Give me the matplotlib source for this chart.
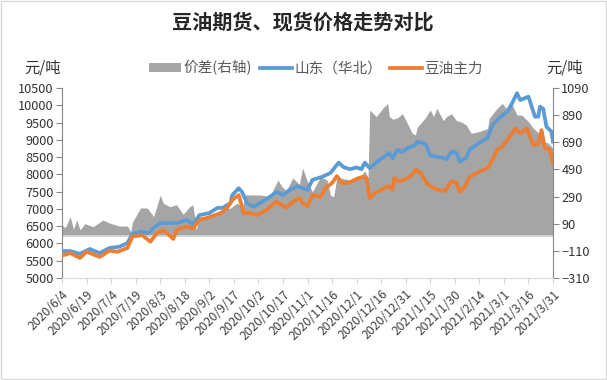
import matplotlib
matplotlib.use("Agg")
import matplotlib.pyplot as plt
from matplotlib.patches import Rectangle, Patch
from matplotlib.lines import Line2D
import pandas as pd

plt.rcParams['font.family'] = ['Noto Sans CJK SC', 'DejaVu Sans']

title = "豆油期货、现货价格走势对比"
unit = "元/吨"
name_diff = "价差(右轴)"
name_spot = "山东（华北）"
name_fut = "豆油主力"

spot_dates = ["2020-06-04","2020-06-09","2020-06-15","2020-06-21","2020-06-27","2020-07-03","2020-07-09",
    "2020-07-14","2020-07-17","2020-07-22","2020-07-27","2020-07-30","2020-08-03","2020-08-11","2020-08-14",
    "2020-08-19","2020-08-23","2020-08-27","2020-09-02","2020-09-07","2020-09-10","2020-09-15","2020-09-16",
    "2020-09-20","2020-09-22","2020-09-25","2020-09-29","2020-10-03","2020-10-09","2020-10-13","2020-10-17",
    "2020-10-21","2020-10-26","2020-10-29","2020-11-01","2020-11-04","2020-11-10","2020-11-15","2020-11-20",
    "2020-11-23","2020-11-27","2020-12-01","2020-12-04","2020-12-06","2020-12-09","2020-12-12","2020-12-15",
    "2020-12-21","2020-12-23","2020-12-26","2020-12-29","2021-01-01","2021-01-06","2021-01-07","2021-01-12",
    "2021-01-15","2021-01-19","2021-01-23","2021-01-25","2021-01-28","2021-01-31","2021-02-02","2021-02-06",
    "2021-02-08","2021-02-14","2021-02-19","2021-02-22","2021-02-27","2021-03-03","2021-03-06","2021-03-09",
    "2021-03-11","2021-03-16","2021-03-20","2021-03-22","2021-03-23","2021-03-25","2021-03-27","2021-03-30",
    "2021-03-31"]
spot_vals = [5780,5780,5700,5840,5720,5870,5905,
    6010,6270,6340,6300,6450,6590,6590,6600,
    6680,6560,6820,6880,7030,7030,7170,7400,
    7600,7490,7170,7060,7170,7350,7490,7400,
    7550,7660,7600,7550,7840,7930,8040,8340,
    8210,8150,8200,8150,8340,8180,8300,8420,
    8620,8470,8710,8650,8760,8850,8950,8880,
    8560,8500,8480,8440,8660,8620,8370,8480,
    8710,8910,9050,9430,9670,9810,10060,10350,
    10150,10250,9670,9670,9960,9900,9380,9240,
    8950]

fut_dates = ["2020-06-04","2020-06-09","2020-06-15","2020-06-19","2020-06-27","2020-07-03","2020-07-08",
    "2020-07-14","2020-07-17","2020-07-23","2020-07-28","2020-08-01","2020-08-05","2020-08-11","2020-08-13",
    "2020-08-19","2020-08-23","2020-08-27","2020-09-02","2020-09-09","2020-09-13","2020-09-16","2020-09-20",
    "2020-09-23","2020-09-27","2020-10-01","2020-10-07","2020-10-13","2020-10-19","2020-10-23","2020-10-27",
    "2020-10-29","2020-11-01","2020-11-04","2020-11-09","2020-11-12","2020-11-16","2020-11-19","2020-11-22",
    "2020-11-26","2020-12-02","2020-12-05","2020-12-07","2020-12-09","2020-12-12","2020-12-16","2020-12-20",
    "2020-12-23","2020-12-24","2020-12-27","2021-01-01","2021-01-04","2021-01-06","2021-01-09","2021-01-13",
    "2021-01-17","2021-01-20","2021-01-24","2021-01-28","2021-01-31","2021-02-02","2021-02-05","2021-02-08",
    "2021-02-14","2021-02-19","2021-02-22","2021-02-25","2021-02-28","2021-03-03","2021-03-08","2021-03-11",
    "2021-03-15","2021-03-19","2021-03-22","2021-03-24","2021-03-26","2021-03-29","2021-03-31"]
fut_vals = [5650,5720,5580,5760,5610,5790,5760,
    5870,6200,6240,6050,6300,6390,6130,6390,
    6490,6440,6680,6760,6880,7030,7260,7400,
    6880,6880,6820,6970,7210,7030,7210,7320,
    7170,7080,7400,7350,7600,7750,7950,7750,
    7750,7890,7930,7890,7310,7450,7550,7660,
    7560,7890,7790,7890,7980,8130,8050,7740,
    7600,7550,7520,7790,7760,7500,7620,7930,
    8080,8180,8420,8710,8800,8990,9330,9190,
    9330,8850,8880,9280,8760,8720,8320]

diff_dates = ["2020-06-04","2020-06-06","2020-06-09","2020-06-11","2020-06-13","2020-06-15","2020-06-18",
    "2020-06-23","2020-06-29","2020-07-03","2020-07-09","2020-07-14","2020-07-16","2020-07-17","2020-07-22",
    "2020-07-26","2020-07-30","2020-08-03","2020-08-05","2020-08-09","2020-08-13","2020-08-17","2020-08-21",
    "2020-08-23","2020-08-25","2020-08-27","2020-09-02","2020-09-07","2020-09-10","2020-09-15","2020-09-19",
    "2020-09-22","2020-09-24","2020-09-29","2020-10-03","2020-10-09","2020-10-14","2020-10-16","2020-10-19",
    "2020-10-23","2020-10-27","2020-10-29","2020-11-01","2020-11-04","2020-11-09","2020-11-13","2020-11-15",
    "2020-11-17","2020-11-19","2020-11-23","2020-11-30","2020-12-03","2020-12-06","2020-12-08","2020-12-09",
    "2020-12-13","2020-12-17","2020-12-20","2020-12-21","2020-12-23","2020-12-26","2020-12-29","2021-01-01",
    "2021-01-04","2021-01-06","2021-01-07","2021-01-12","2021-01-15","2021-01-17","2021-01-19","2021-01-23",
    "2021-01-25","2021-01-28","2021-01-31","2021-02-03","2021-02-06","2021-02-09","2021-02-14","2021-02-19",
    "2021-02-20","2021-02-24","2021-02-28","2021-03-03","2021-03-06","2021-03-09","2021-03-12","2021-03-16",
    "2021-03-19","2021-03-22","2021-03-25","2021-03-28","2021-03-31"]
diff_vals = [80,60,142,50,120,44,90,
    68,117,95,73,73,30,100,206,
    206,142,300,240,215,230,160,215,
    230,44,142,130,169,191,206,243,
    206,302,302,302,290,412,370,330,
    427,380,500,400,326,436,410,300,
    289,436,420,410,436,480,430,928,
    879,940,977,880,860,870,900,830,
    756,744,800,870,928,880,940,850,
    880,900,850,840,817,756,770,790,
    866,928,977,930,970,891,890,842,
    793,760,694,685,646]

left_ticks = [5000,5500,6000,6500,7000,7500,8000,8500,9000,9500,10000,10500]
right_ticks = [-310,-110,90,290,490,690,890,1090]
x_start, x_end, x_step = "2020-06-04", "2021-03-31", 15

spot_d = pd.to_datetime(spot_dates)
fut_d = pd.to_datetime(fut_dates)
diff_d = pd.to_datetime(diff_dates)

fig = plt.figure(figsize=(6.07, 3.80), dpi=100)
fig.add_artist(Rectangle((0.002, 0.003), 0.996, 0.994, transform=fig.transFigure,
                         fill=False, edgecolor="#d9d9d9", linewidth=1))

ax = fig.add_axes([62/607, 1-278/380, (553-62)/607, (278-88)/380])
ax2 = ax.twinx()
ax.set_zorder(ax2.get_zorder() + 1)
ax.patch.set_visible(False)

c_gray, c_blue, c_orange = "#a5a5a5", "#5b9bd5", "#ed7d31"
ax2.fill_between(diff_d, 0, diff_vals, color=c_gray, linewidth=0, zorder=1)
ax2.axhline(0, color="#d9d9d9", linewidth=1.2, zorder=2)
ax.plot(spot_d, spot_vals, color=c_blue, linewidth=2.7, solid_joinstyle="round", zorder=3)
ax.plot(fut_d, fut_vals, color=c_orange, linewidth=2.7, solid_joinstyle="round", zorder=4)

ax.set_ylim(left_ticks[0], left_ticks[-1])
ax.set_yticks(left_ticks)
ax2.set_ylim(right_ticks[0], right_ticks[-1])
ax2.set_yticks(right_ticks)

xs = pd.Timestamp(x_start)
xe = pd.Timestamp(x_end)
ax.set_xlim(xs, xe)
xt = pd.date_range(xs, xe, freq=f"{x_step}D")
ax.set_xticks(xt)
ax.set_xticklabels([f"{d.year}/{d.month}/{d.day}" for d in xt], rotation=45,
                   ha="right", rotation_mode="anchor", fontsize=8.8, color="#404040")

for a in (ax, ax2):
    a.spines["top"].set_visible(False)
    a.spines["left"].set_color("#868686")
    a.spines["right"].set_color("#868686")
    a.spines["bottom"].set_color("#d9d9d9")
ax.spines["right"].set_visible(False)
ax2.spines["left"].set_visible(False)
ax2.spines["bottom"].set_visible(False)
ax.tick_params(axis="y", length=4, color="#868686", labelsize=9.2, labelcolor="#333333", pad=2)
ax2.tick_params(axis="y", length=4, color="#868686", labelsize=9.2, labelcolor="#333333", pad=2)
ax.tick_params(axis="x", length=4, color="#d9d9d9", pad=3)

fig.text(303/607, 1-22/380, title, ha="center", va="center", fontsize=14.5,
         fontweight="bold", color="#262626")
fig.text(43/607, 1-68/380, unit, ha="center", va="center", fontsize=11, color="#333333")
fig.text(565/607, 1-68/380, unit, ha="center", va="center", fontsize=11, color="#333333")

handles = [Patch(facecolor=c_gray, edgecolor="none"),
           Line2D([], [], color=c_blue, linewidth=2.7),
           Line2D([], [], color=c_orange, linewidth=2.7)]
fig.legend(handles, [name_diff, name_spot, name_fut], ncol=3, loc="center",
           bbox_to_anchor=(316/607, 1-68/380), frameon=False, fontsize=10.5,
           handlelength=2.2, handleheight=0.55, handletextpad=0.2, columnspacing=0.5,
           labelcolor="#595959")

fig.savefig("out.png", dpi=100)
